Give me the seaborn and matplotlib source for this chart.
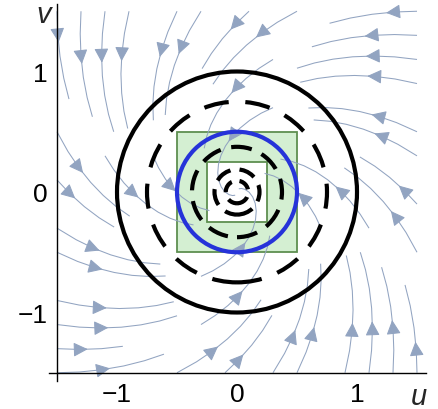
import numpy as np
import matplotlib
matplotlib.use('Agg')
import matplotlib.pyplot as plt
import matplotlib.patches as mpatches
import seaborn as sns

# field coefficients: u' = a*u + b*v, v' = c*u + d*v (spiral sink)
field_u = [-1.0, -1.0]
field_v = [1.0, -1.0]

solid_radii = [1.0]
blue_radii = [0.5]
dashed_radii = [0.75, 0.375, 0.1875, 0.09375]
square_halfs = [0.5, 0.25]
square_fills = ['#d4efd2', 'white']
tick_vals = [-1, 0, 1]

sns.set_theme(style='white')
plt.rcParams['font.family'] = ['Liberation Sans', 'DejaVu Sans']

fig = plt.figure(figsize=(4.39, 4.10), dpi=100)
ax = fig.add_axes([49 / 439, 1 - 382 / 410, 377 / 439, 377 / 410])

# squares
for h, fc in zip(square_halfs, square_fills):
    ax.add_patch(mpatches.Rectangle((-h, -h), 2 * h, 2 * h, facecolor=fc,
                                    edgecolor='#5e8f50', lw=1.3, zorder=1))

# stream field
g = np.linspace(-1.5, 1.5, 60)
X, Y = np.meshgrid(g, g)
U = field_u[0] * X + field_u[1] * Y
V = field_v[0] * X + field_v[1] * Y
ax.streamplot(X, Y, U, V, density=0.55, color='#92a4c1', linewidth=0.75,
              arrowsize=2.2, arrowstyle='-|>', maxlength=0.7, zorder=2)

# circles
for r in solid_radii:
    ax.add_patch(mpatches.Circle((0, 0), r, fill=False, ec='black', lw=3.0, zorder=3))
for r in blue_radii:
    ax.add_patch(mpatches.Circle((0, 0), r, fill=False, ec='#2633d9', lw=3.0, zorder=3))
dash_styles = [(0, (6.0, 4.0)), (0, (5.0, 2.6)), (0, (4.0, 2.2)), (0, (3.0, 1.9))]
for r, ls in zip(dashed_radii, dash_styles):
    ax.add_patch(mpatches.Circle((0, 0), r, fill=False, ec='black', lw=3.0,
                                 linestyle=ls, zorder=3))

ax.set_xlim((49 - 237) / 120, (426 - 237) / 120)
ax.set_ylim(-(382 - 193) / 120.5, (193 - 5) / 120.5)
ax.set_aspect('auto')

for s in ['top', 'right']:
    ax.spines[s].set_visible(False)
ax.spines['left'].set_position(('data', -1.5))
ax.spines['bottom'].set_position(('data', -1.5))
for s in ['left', 'bottom']:
    ax.spines[s].set_color('black')
    ax.spines[s].set_linewidth(1.0)

ax.set_xticks(tick_vals)
ax.set_yticks(tick_vals)
ax.tick_params(direction='in', length=4, width=0.8, color='black',
               labelsize=19, labelcolor='black')
ax.tick_params(axis='x', pad=7)
ax.tick_params(axis='y', pad=7)
ax.grid(False)

fig.text(44 / 439, 1 - 15 / 410, 'v', fontsize=21, style='italic',
         ha='center', va='center')
fig.text(419 / 439, 1 - 397 / 410, 'u', fontsize=21, style='italic',
         ha='center', va='center')

fig.savefig('out.png', dpi=100)
